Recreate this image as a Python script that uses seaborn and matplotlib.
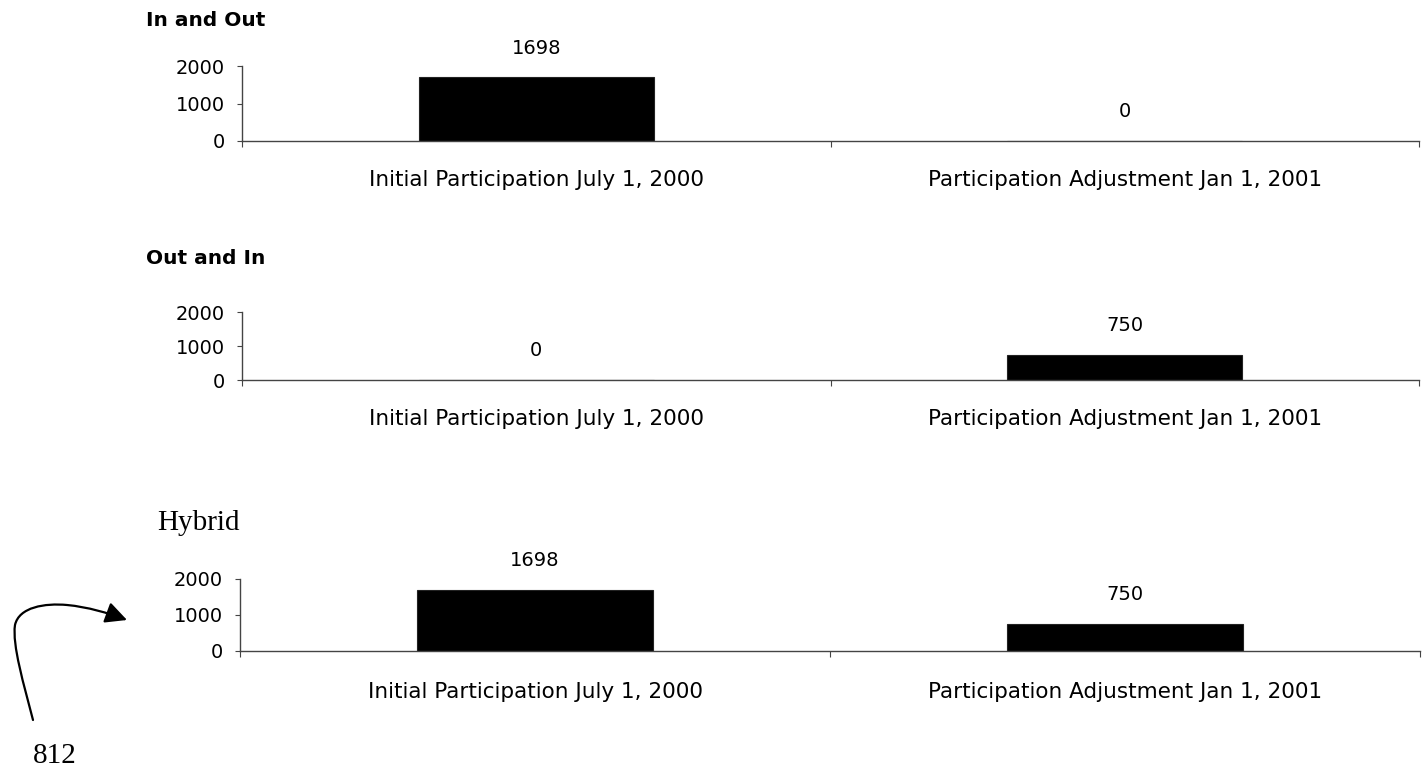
import matplotlib
matplotlib.use("Agg")
import matplotlib.pyplot as plt
import seaborn as sns
import pandas as pd
from matplotlib.patches import FancyArrowPatch
from matplotlib.path import Path

categories = ["Initial Participation July 1, 2000", "Participation Adjustment Jan 1, 2001"]
in_and_out = [1698, 0]
out_and_in = [0, 750]
hybrid = [1698, 750]
panel_titles = ["In and Out", "Out and In", "Hybrid"]
y_ticks = [0, 1000, 2000]

sns.set_theme(style="white")
plt.rcParams['font.family'] = ['DejaVu Sans']
plt.rcParams['text.color'] = 'black'

fig = plt.figure(figsize=(14.26, 7.8), dpi=100)
W, H = 1426, 780

# (left px, right px, zero px, top(2000) px)
layouts = [(242, 1419, 141, 66), (242, 1419, 380, 312), (240, 1420, 651, 579)]
series = [in_and_out, out_and_in, hybrid]
xpads = [21, 21, 22]

for (l, r, z, t), vals, xp in zip(layouts, series, xpads):
    ax = fig.add_axes([l / W, 1 - z / H, (r - l) / W, (z - t) / H])
    df = pd.DataFrame({"cat": categories, "val": vals})
    sns.barplot(data=df, x="cat", y="val", ax=ax, color="black", width=0.4,
                saturation=1, edgecolor="#222222", linewidth=0.8)
    ax.set_xlim(-0.5, 1.5)
    ax.set_ylim(0, 2000)
    ax.set_yticks(y_ticks)
    ax.set_xlabel("")
    ax.set_ylabel("")
    for s in ["top", "right"]:
        ax.spines[s].set_visible(False)
    for s in ["left", "bottom"]:
        ax.spines[s].set_color("#444444")
        ax.spines[s].set_linewidth(1.0)
    ax.tick_params(axis="y", length=3.5, width=0.8, color="#444444", pad=9,
                   labelsize=14, labelcolor="black", left=True)
    ax.tick_params(axis="x", which="major", length=0, pad=xp, labelsize=15.5,
                   labelcolor="black")
    ax.set_xticks([-0.5, 0.5, 1.5], minor=True)
    ax.tick_params(axis="x", which="minor", length=4, width=0.8,
                   color="#444444", bottom=True)
    for i, v in enumerate(vals):
        ax.annotate(f"{v}", xy=(i, v), xytext=(0, 21), textcoords="offset points",
                    ha="center", va="center", fontsize=14, color="black")
    ax.set_facecolor("white")

fig.text(146 / W, 1 - 20 / H, panel_titles[0], fontsize=14.5, fontweight="bold",
         ha="left", va="center", color="black")
fig.text(146 / W, 1 - 258 / H, panel_titles[1], fontsize=14.5, fontweight="bold",
         ha="left", va="center", color="black")
fig.text(157 / W, 1 - 523 / H, panel_titles[2], fontsize=21, ha="left", va="center",
         color="black", family=["Liberation Serif", "DejaVu Serif"])
fig.text(33 / W, 1 - 756 / H, "812", fontsize=21, ha="left", va="center",
         color="black", family=["Liberation Serif", "DejaVu Serif"])

def fp(x, y):
    return (x / W, 1 - y / H)

verts = [fp(33, 720),
         fp(24, 685), fp(12, 645), fp(15, 625),
         fp(19, 607), fp(45, 603), fp(67, 605),
         fp(88, 607), fp(108, 613), fp(127, 620)]
codes = [Path.MOVETO] + [Path.CURVE4] * 9
arrow = FancyArrowPatch(path=Path(verts, codes), transform=fig.transFigure,
                        arrowstyle="-|>,head_length=13,head_width=6.5",
                        color="black", lw=1.6, mutation_scale=1)
fig.patches.append(arrow)

fig.savefig("out.png", dpi=100, facecolor="white")
